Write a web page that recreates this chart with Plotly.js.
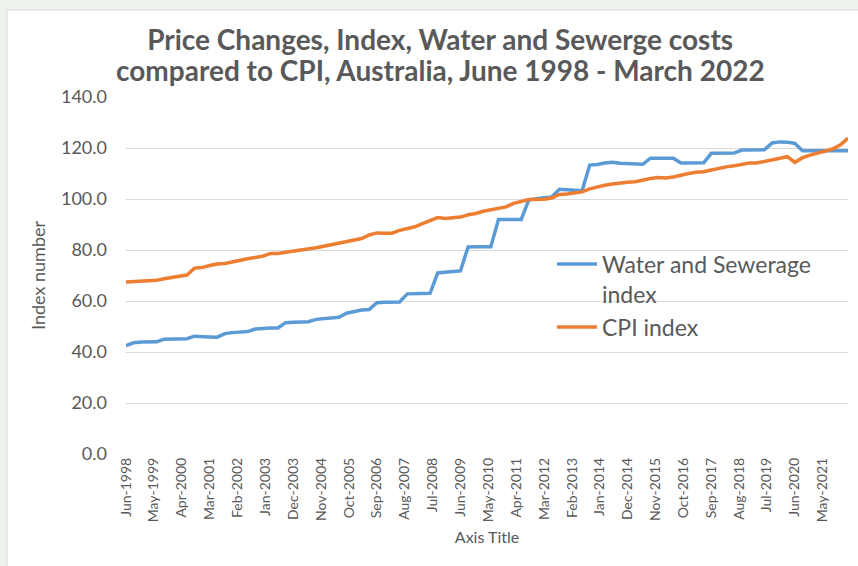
<!DOCTYPE html>
<html>
<head>
<meta charset="utf-8">
<script src="https://cdn.plot.ly/plotly-3.0.1.min.js"></script>
<style>html,body{margin:0;padding:0;background:#eff3ee;}</style>
</head>
<body>
<div id="chart" style="width:858px;height:566px;"></div>
<script>
const quarters = [
 "1998-06-01","1998-09-01","1998-12-01",
 "1999-03-01","1999-06-01","1999-09-01","1999-12-01",
 "2000-03-01","2000-06-01","2000-09-01","2000-12-01",
 "2001-03-01","2001-06-01","2001-09-01","2001-12-01",
 "2002-03-01","2002-06-01","2002-09-01","2002-12-01",
 "2003-03-01","2003-06-01","2003-09-01","2003-12-01",
 "2004-03-01","2004-06-01","2004-09-01","2004-12-01",
 "2005-03-01","2005-06-01","2005-09-01","2005-12-01",
 "2006-03-01","2006-06-01","2006-09-01","2006-12-01",
 "2007-03-01","2007-06-01","2007-09-01","2007-12-01",
 "2008-03-01","2008-06-01","2008-09-01","2008-12-01",
 "2009-03-01","2009-06-01","2009-09-01","2009-12-01",
 "2010-03-01","2010-06-01","2010-09-01","2010-12-01",
 "2011-03-01","2011-06-01","2011-09-01","2011-12-01",
 "2012-03-01","2012-06-01","2012-09-01","2012-12-01",
 "2013-03-01","2013-06-01","2013-09-01","2013-12-01",
 "2014-03-01","2014-06-01","2014-09-01","2014-12-01",
 "2015-03-01","2015-06-01","2015-09-01","2015-12-01",
 "2016-03-01","2016-06-01","2016-09-01","2016-12-01",
 "2017-03-01","2017-06-01","2017-09-01","2017-12-01",
 "2018-03-01","2018-06-01","2018-09-01","2018-12-01",
 "2019-03-01","2019-06-01","2019-09-01","2019-12-01",
 "2020-03-01","2020-06-01","2020-09-01","2020-12-01",
 "2021-03-01","2021-06-01","2021-09-01","2021-12-01",
 "2022-03-01"
];

const waterSewerage = [
 42.5, 43.6, 43.9,
 43.9, 44.0, 45.0, 45.1,
 45.1, 45.2, 46.2, 46.2,
 45.9, 45.8, 47.2, 47.6,
 47.9, 48.0, 49.0, 49.3,
 49.4, 49.4, 51.5, 51.7,
 51.8, 51.9, 52.8, 53.1,
 53.4, 53.6, 55.2, 56.0,
 56.5, 56.7, 59.3, 59.5,
 59.6, 59.6, 62.8, 62.9,
 63.0, 63.0, 71.0, 71.4,
 71.6, 71.8, 81.2, 81.3,
 81.3, 81.3, 92.0, 92.0,
 92.0, 92.0, 99.7, 100.2,
 100.5, 100.8, 103.8, 103.6,
 103.4, 103.2, 113.3, 113.5,
 114.1, 114.4, 114.0, 113.9,
 113.7, 113.6, 116.0, 116.0,
 116.0, 116.0, 114.1, 114.1,
 114.1, 114.2, 117.9, 118.0,
 118.0, 118.0, 119.2, 119.2,
 119.2, 119.3, 122.0, 122.4,
 122.3, 121.8, 118.9, 118.9,
 118.9, 118.9, 118.9, 118.9,
 118.9
];

const cpi = [
 67.5, 67.6, 67.8,
 67.8, 68.1, 68.7, 69.1,
 69.7, 70.2, 72.9, 73.1,
 73.9, 74.5, 74.7, 75.4,
 76.1, 76.6, 77.1, 77.6,
 78.6, 78.6, 79.1, 79.5,
 80.2, 80.6, 80.9, 81.5,
 82.1, 82.6, 83.4, 83.8,
 84.5, 85.9, 86.7, 86.6,
 86.6, 87.7, 88.3, 89.1,
 90.3, 91.6, 92.7, 92.4,
 92.5, 92.9, 93.8, 94.3,
 95.2, 95.8, 96.5, 96.9,
 98.3, 99.2, 99.8, 99.8,
 99.9, 100.4, 101.8, 102.0,
 102.4, 102.8, 104.0, 104.8,
 105.4, 105.9, 106.4, 106.6,
 106.8, 107.5, 108.0, 108.4,
 108.2, 108.6, 109.4, 110.0,
 110.5, 110.7, 111.4, 112.1,
 112.6, 113.0, 113.5, 114.1,
 114.1, 114.8, 115.4, 116.2,
 116.6, 114.4, 116.2, 117.2,
 117.9, 118.8, 119.7, 121.3,
 123.9
];

const tickDates = [
 "1998-06-01","1999-05-01","2000-04-01","2001-03-01","2002-02-01","2003-01-01",
 "2003-12-01","2004-11-01","2005-10-01","2006-09-01","2007-08-01","2008-07-01",
 "2009-06-01","2010-05-01","2011-04-01","2012-03-01","2013-02-01","2014-01-01",
 "2014-12-01","2015-11-01","2016-10-01","2017-09-01","2018-08-01","2019-07-01",
 "2020-06-01","2021-05-01"
];
const tickLabels = [
 "Jun-1998","May-1999","Apr-2000","Mar-2001","Feb-2002","Jan-2003",
 "Dec-2003","Nov-2004","Oct-2005","Sep-2006","Aug-2007","Jul-2008",
 "Jun-2009","May-2010","Apr-2011","Mar-2012","Feb-2013","Jan-2014",
 "Dec-2014","Nov-2015","Oct-2016","Sep-2017","Aug-2018","Jul-2019",
 "Jun-2020","May-2021"
];

const titleLine1 = "Price Changes, Index, Water and Sewerge costs";
const titleLine2 = "compared to CPI, Australia, June 1998 - March 2022";

const FONT = "Lato, 'Open Sans', sans-serif";
const GREY = "#595959";

const traces = [
 {x: quarters, y: waterSewerage, type: "scatter", mode: "lines",
  name: "Water and Sewerage<br>index",
  line: {color: "#5b9bd5", width: 3.5}},
 {x: quarters, y: cpi, type: "scatter", mode: "lines",
  name: "CPI index",
  line: {color: "#ed7d31", width: 3.5}}
];

const layout = {
 width: 858, height: 566,
 paper_bgcolor: "#eff3ee",
 plot_bgcolor: "#ffffff",
 margin: {l: 126, r: 10, t: 97, b: 112},
 font: {family: FONT, color: GREY},
 title: {
  text: "<b>" + titleLine1 + "</b>",
  font: {family: FONT, size: 28, color: GREY},
  x: 0.513, xref: "container", xanchor: "center",
  y: 1 - 40 / 566, yref: "container", yanchor: "middle"
 },
 annotations: [
  {text: "<b>" + titleLine2 + "</b>", showarrow: false,
   xref: "paper", yref: "paper",
   x: (440 - 126) / 722, y: (454 - 70) / 357,
   xanchor: "center", yanchor: "middle",
   font: {family: FONT, size: 28, color: GREY}}
 ],
 xaxis: {
  type: "date",
  range: ["1998-06-01", "2022-03-01"],
  tickmode: "array", tickvals: tickDates, ticktext: tickLabels,
  tickangle: -90, tickfont: {family: FONT, size: 14, color: GREY},
  showgrid: false, zeroline: false, showline: false, ticks: "",
  title: {text: "Axis Title", font: {family: FONT, size: 16, color: GREY}, standoff: 10}
 },
 yaxis: {
  range: [0, 140], dtick: 20, tick0: 0, tickformat: ".1f",
  gridcolor: "#d9d9d9", gridwidth: 1,
  zeroline: false, showline: false, ticks: "",
  tickfont: {family: FONT, size: 18, color: GREY},
  ticklabelstandoff: 18,
  title: {text: "Index number", font: {family: FONT, size: 18, color: GREY}, standoff: 10}
 },
 legend: {
  x: 0.59, y: 0.592, xanchor: "left", yanchor: "top",
  bgcolor: "rgba(0,0,0,0)",
  font: {family: FONT, size: 23, color: GREY},
  valign: "top",
  itemwidth: 40, tracegroupgap: 6
 },
 shapes: [
  {type: "rect", xref: "paper", yref: "paper", layer: "below",
   x0: (7 - 126) / 722, x1: 1.2, y0: -0.4, y1: (454 - 10) / 357,
   fillcolor: "#ffffff", line: {color: "#d9d9d9", width: 1}}
 ]
};

Plotly.newPlot("chart", traces, layout, {displayModeBar: false, staticPlot: true});
</script>
</body>
</html>
